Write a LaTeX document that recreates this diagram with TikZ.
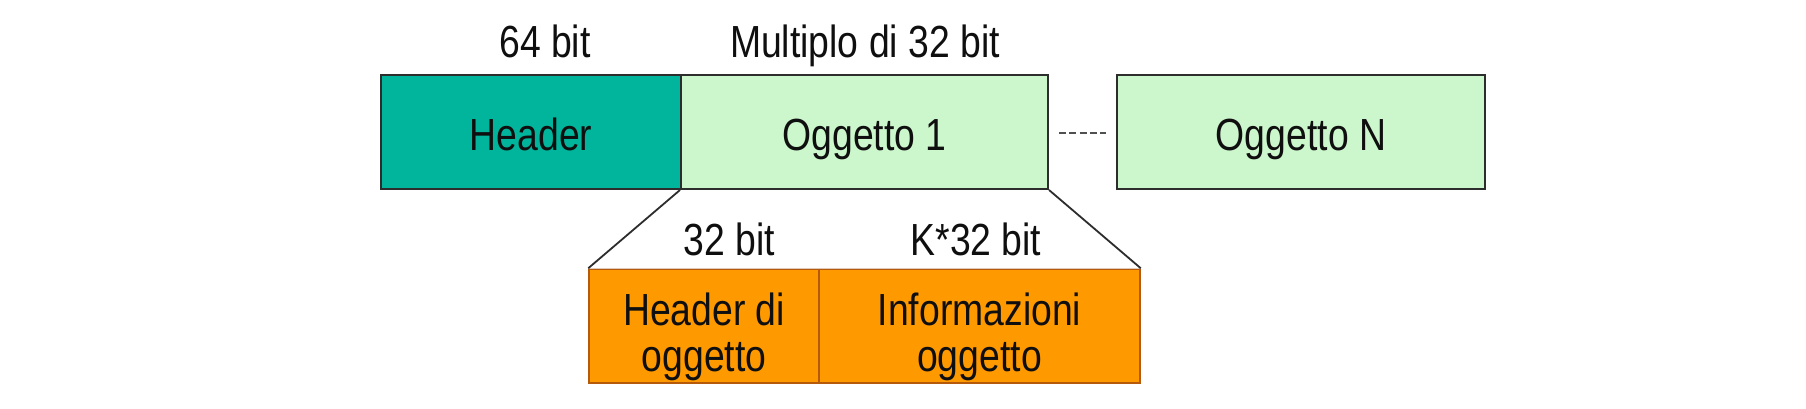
\documentclass[tikz,border=0pt]{standalone}
\usepackage{fontspec}
\setmainfont{Liberation Sans}[FakeStretch=0.83]
\definecolor{tealc}{RGB}{0,181,156}
\definecolor{lgreen}{RGB}{204,246,204}
\definecolor{orng}{RGB}{255,153,0}
\definecolor{bord}{RGB}{45,45,45}
\definecolor{obord}{RGB}{180,90,10}
\definecolor{otop}{RGB}{225,200,185}
\definecolor{txtc}{RGB}{15,15,15}
\definecolor{dashc}{RGB}{80,80,80}
\tikzset{
  box/.style={draw=bord, line width=2pt, inner sep=0pt, text height=36pt, text depth=0pt,
    text=txtc, font=\fontsize{45pt}{46pt}\selectfont},
  obox/.style={draw=obord, line width=1.5pt, fill=orng, inner sep=0pt},
  txt/.style={inner sep=0pt, text=txtc, font=\fontsize{45pt}{46pt}\selectfont, align=center},
  lbl/.style={inner sep=0pt, anchor=base, text=txtc, font=\fontsize{45pt}{46pt}\selectfont},
  conn/.style={draw=bord, line width=1.8pt},
}
\begin{document}
\begin{tikzpicture}[x=1pt,y=-1pt]
\useasboundingbox (0,0) rectangle (1806,409);
% top row
\node[box, fill=tealc, minimum width=300pt, minimum height=114pt] (hdr) at (531,132) {Header};
\node[box, fill=lgreen, minimum width=367pt, minimum height=114pt] (o1) at (864.5,132) {Oggetto 1};
\node[box, fill=lgreen, minimum width=368pt, minimum height=114pt] (on) at (1301,132) {Oggetto N};
% labels above
\node[lbl] (l64) at (545,58) {64 bit};
\node[lbl] (lmul) at (865,58) {Multiplo di 32 bit};
% dashed connector
\coordinate (d1) at (1059,133);
\coordinate (d2) at (1106,133);
\draw[dashc, line width=2.5pt, dash pattern=on 7pt off 3.3pt] (d1) -- (d2);
% lower row
\node[obox, minimum width=230pt, minimum height=114pt] (hdo) at (704,326) {};
\node[obox, minimum width=321pt, minimum height=114pt] (inf) at (979.5,326) {};
\draw[otop, line width=1.5pt] (hdo.north west) -- (inf.north east);
\node[txt, anchor=north] (thdo) at (704,293) {Header di\\oggetto};
\node[txt, anchor=north] (tinf) at (979.5,293) {Informazioni\\oggetto};
\node[lbl] (l32) at (729.5,255) {32 bit};
\node[lbl] (lk32) at (976,255) {K*32 bit};
% zoom lines
\draw[conn] (o1.south west) -- (hdo.north west);
\draw[conn] (o1.south east) -- (inf.north east);
\end{tikzpicture}
\end{document}
